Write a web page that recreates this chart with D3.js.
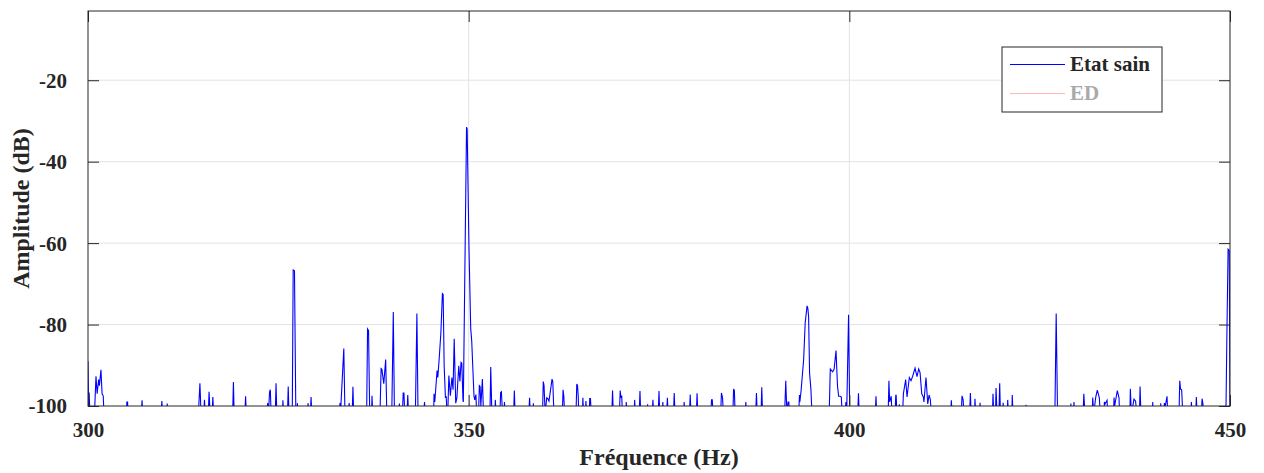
<!DOCTYPE html>
<html lang="fr">
<head>
  <meta charset="UTF-8">
  <title>Spectre - Etat sain</title>
  <script src="https://d3js.org/d3.v7.min.js"></script>
  <style>
    body { margin: 0; background: #fff; }
    svg { display: block; font-family: "Liberation Serif", "Times New Roman", serif; font-weight: bold; }
  </style>
</head>
<body>
<div id="chart"></div>
<script>
  // x / y ticks
  const xTicks = [300, 350, 400, 450];
  const yTicks = [-100, -80, -60, -40, -20];
  const legendLabels = ["Etat sain", "ED"];

  // spectrum: [frequency (Hz), amplitude (dB)]
  // values at -102 are below the axis floor and get clipped
  const etatSain = [
    [300.0,-89],[300.1,-102],[300.15,-96.7],[300.25,-102],[300.85,-102],[301.05,-92.7],[301.2,-97],
    [301.4,-93.5],[301.5,-95],[301.7,-91.1],[301.85,-97],[302.0,-97.5],[302.1,-102],
    [305.05,-102],[305.1,-99],[305.2,-99],[305.25,-102],
    [307.0,-102],[307.1,-98.6],[307.2,-102],
    [309.6,-102],[309.7,-98.8],[309.8,-102],
    [310.35,-102],[310.4,-99.4],[310.5,-102],
    [314.5,-102],[314.7,-94.4],[314.85,-102],
    [315.2,-102],[315.3,-98.5],[315.4,-102],
    [315.8,-102],[315.9,-96.5],[316.05,-102],
    [316.3,-102],[316.4,-97.8],[316.5,-102],
    [319.0,-102],[319.1,-94.1],[319.2,-102],
    [320.6,-102],[320.7,-97.6],[320.8,-102],
    [323.5,-102],[323.6,-99.3],[323.7,-102],[323.85,-96.5],[323.95,-96],[324.05,-102],
    [324.6,-102],[324.7,-94.4],[324.8,-102],
    [325.55,-102],[325.6,-98.6],[325.7,-102],
    [326.2,-102],[326.3,-95.2],[326.4,-102],
    [326.83,-102],[326.95,-66.6],[327.12,-66.8],[327.3,-102],
    [327.45,-102],[327.5,-99.3],[327.6,-102],
    [328.85,-102],[328.9,-99.3],[329.0,-102],
    [329.2,-102],[329.3,-97.8],[329.4,-102],
    [333.0,-102],[333.1,-99.3],[333.2,-100.5],[333.6,-85.9],[333.75,-102],
    [334.2,-102],[334.3,-99.3],[334.4,-102],
    [334.7,-102],[334.8,-95.3],[334.9,-102],
    [336.6,-102],[336.72,-81.1],[336.85,-81.5],[337.0,-102],
    [337.25,-102],[337.3,-97.5],[337.4,-102],
    [338.35,-102],[338.5,-90.8],[338.6,-91],[338.85,-94.5],[339.1,-88.6],[339.25,-102],
    [339.9,-102],[340.1,-76.9],[340.25,-102],
    [340.85,-102],[340.9,-99.4],[341.0,-102],
    [341.3,-102],[341.4,-96.8],[341.5,-96.8],[341.6,-102],
    [341.9,-102],[342.0,-97.3],[342.1,-102],
    [343.0,-102],[343.2,-77.3],[343.35,-102],
    [344.1,-102],[344.2,-99],[344.3,-102],
    [345.4,-102],[345.45,-97],[345.55,-99],[345.85,-91.3],[345.95,-93],[346.15,-87.8],[346.35,-82],
    [346.55,-72.4],[346.65,-72.6],[346.78,-90],[346.95,-98],[347.05,-97.6],[347.15,-102],
    [347.25,-102],[347.4,-92.5],[347.6,-97.5],[347.8,-93],[347.95,-96],[348.1,-83.5],[348.3,-99.3],
    [348.45,-98],[348.7,-90.1],[348.85,-94],[349.0,-89.3],[349.1,-89.5],[349.25,-98.5],
    [349.3,-99],[349.72,-31.5],[349.8,-32],[350.05,-62],[350.27,-81],[350.4,-84],[350.7,-97.6],
    [350.8,-98.5],[350.95,-97.2],[351.05,-102],
    [351.3,-102],[351.4,-95],[351.5,-95.2],[351.6,-100],[351.8,-93.4],[351.95,-102],
    [352.8,-102],[352.9,-90.4],[353.05,-102],
    [353.45,-102],[353.5,-98.5],[353.6,-102],
    [354.1,-102],[354.2,-96.7],[354.3,-96.5],[354.45,-102],
    [354.65,-102],[354.7,-99],[354.8,-102],
    [355.9,-102],[356.0,-96.2],[356.1,-102],
    [357.9,-102],[358.0,-98],[358.1,-102],
    [358.45,-102],[358.5,-99.3],[358.55,-102],
    [359.7,-102],[359.8,-94],[359.9,-95],[360.05,-102],[360.25,-98],[360.4,-98.2],[360.55,-98.8],
    [360.95,-93.4],[361.05,-94],[361.2,-102],
    [362.3,-102],[362.4,-96],[362.5,-97.6],[362.6,-102],
    [364.1,-102],[364.2,-94.6],[364.3,-95],[364.4,-98],[364.45,-102],
    [364.95,-102],[365.0,-98],[365.1,-102],
    [365.35,-102],[365.4,-98.8],[365.5,-102],
    [365.85,-102],[365.9,-98.2],[366.0,-98.2],[366.1,-102],
    [368.8,-102],[368.9,-96.2],[369.0,-102],
    [369.8,-102],[369.9,-96.2],[370.0,-98],[370.1,-97.4],[370.2,-102],
    [370.65,-102],[370.7,-99],[370.8,-102],
    [371.75,-102],[371.8,-98.5],[371.9,-102],
    [372.4,-102],[372.5,-96.3],[372.6,-102],
    [373.45,-102],[373.5,-99.6],[373.55,-102],
    [374.1,-102],[374.2,-98.5],[374.3,-102],
    [374.9,-102],[375.0,-96.3],[375.1,-102],
    [375.45,-102],[375.5,-99],[375.6,-102],
    [376.0,-102],[376.1,-98],[376.2,-102],
    [376.9,-102],[377.0,-96.8],[377.1,-102],
    [378.25,-102],[378.3,-99],[378.4,-102],
    [379.0,-102],[379.1,-97.2],[379.2,-102],
    [379.9,-102],[380.0,-96.9],[380.1,-102],
    [381.8,-102],[381.9,-98.5],[382.0,-98.5],[382.1,-102],
    [383.1,-102],[383.2,-96.8],[383.35,-98],[383.45,-102],
    [384.7,-102],[384.8,-95.8],[384.9,-96.2],[385.0,-102],
    [386.35,-102],[386.4,-99],[386.5,-102],
    [387.7,-102],[387.8,-96.8],[387.9,-102],
    [388.4,-102],[388.5,-95.4],[388.6,-102],
    [391.5,-102],[391.65,-93.8],[391.8,-102],[391.95,-99],[392.05,-99],[392.15,-102],
    [393.35,-102],[393.45,-97.3],[393.5,-99],[393.65,-96.5],[394.0,-88.6],[394.2,-79.6],
    [394.45,-75.4],[394.55,-76],[394.65,-78],[394.78,-92],[394.95,-95.8],[395.1,-102],
    [397.35,-102],[397.5,-90.9],[397.8,-91.6],[398.0,-91],[398.25,-86.4],[398.45,-95.2],
    [398.6,-97.6],[398.8,-97.6],[398.95,-97.8],[399.05,-102],
    [399.45,-102],[399.55,-99],[399.65,-102],[399.9,-77.6],[400.05,-102],
    [401.1,-102],[401.2,-96.9],[401.3,-102],
    [403.4,-102],[403.5,-97.6],[403.6,-102],
    [405.1,-102],[405.2,-93.8],[405.3,-99],[405.5,-97.6],[405.6,-102],
    [406.0,-102],[406.1,-97.4],[406.15,-97.4],[406.25,-102],
    [406.5,-102],[406.57,-99.6],[406.65,-102],
    [407.0,-102],[407.1,-97],[407.4,-93.5],[407.58,-97.8],[407.88,-93],[408.1,-93.8],[408.32,-92.7],
    [408.63,-90.7],[408.89,-92.8],[409.11,-90.9],[409.29,-91.8],[409.51,-97],[409.72,-97.8],
    [409.8,-99],[410.07,-93],[410.3,-99.5],[410.47,-97.3],[410.64,-98.4],[410.77,-102],
    [413.3,-102],[413.4,-98.6],[413.5,-102],
    [414.7,-102],[414.8,-97.5],[414.95,-98.5],[415.05,-102],
    [415.8,-102],[415.9,-96.8],[416.0,-102],
    [416.45,-102],[416.5,-98.2],[416.6,-102],
    [417.1,-102],[417.17,-99.2],[417.25,-102],
    [418.8,-102],[418.87,-97],[418.98,-102],[419.2,-102],[419.27,-95.6],[419.4,-102],
    [419.65,-102],[419.75,-94.4],[419.85,-102],
    [420.15,-102],[420.2,-99.2],[420.3,-102],
    [420.75,-102],[420.8,-98.5],[420.9,-102],
    [421.35,-102],[421.4,-97.3],[421.5,-102],
    [423.15,-102],[423.2,-99.7],[423.25,-102],
    [427.0,-102],[427.17,-77.3],[427.35,-102],
    [429.05,-102],[429.1,-99.4],[429.15,-102],
    [429.45,-102],[429.5,-99],[429.6,-102],
    [430.7,-102],[430.8,-97],[430.95,-102],
    [431.9,-102],[431.97,-97.9],[432.1,-102],[432.36,-97.9],[432.57,-96.1],[432.84,-98],[432.95,-102],
    [433.45,-102],[433.5,-99],[433.6,-99.5],[433.85,-98.6],[433.95,-102],
    [434.7,-102],[434.77,-97.9],[434.85,-100],[435.2,-96.2],[435.42,-98],[435.5,-102],
    [436.85,-102],[436.91,-95.8],[437.05,-102],[437.39,-98.3],[437.6,-98.8],[437.75,-102],
    [438.1,-102],[438.19,-95.2],[438.3,-102],
    [439.8,-102],[439.85,-99],[439.9,-102],
    [440.85,-102],[440.9,-99.3],[440.95,-102],[441.3,-102],[441.38,-99.3],[441.5,-100],
    [441.73,-97.6],[441.82,-102],
    [443.3,-102],[443.4,-93.8],[443.5,-95.8],[443.65,-96],[443.8,-102],
    [444.85,-102],[444.93,-99],[445.0,-102],
    [445.5,-102],[445.58,-97.8],[445.68,-102],
    [446.25,-102],[446.33,-98.2],[446.45,-99.5],[446.5,-102],
    [449.4,-102],[449.48,-99.5],[449.6,-81.3],[449.75,-61.5],[449.9,-61.8],[450.0,-102]
  ];

  const width = 1264, height = 473;
  const plot = { left: 88, right: 1230, top: 11, bottom: 406 };
  const axisColor = "#262626";
  const tickLen = 11;

  const x = d3.scaleLinear().domain([300, 450]).range([plot.left, plot.right]);
  const y = d3.scaleLinear().domain([-100, -3]).range([plot.bottom, plot.top]);

  const svg = d3.select("#chart").append("svg")
    .attr("width", width)
    .attr("height", height);

  svg.append("defs").append("clipPath").attr("id", "plot-clip")
    .append("rect")
    .attr("x", plot.left).attr("y", plot.top)
    .attr("width", plot.right - plot.left).attr("height", plot.bottom - plot.top);

  // grid
  svg.append("g").selectAll("line")
    .data(yTicks.filter(d => d > -100))
    .join("line")
    .attr("x1", plot.left).attr("x2", plot.right)
    .attr("y1", d => y(d)).attr("y2", d => y(d))
    .attr("stroke", "#e3e3e3").attr("stroke-width", 1);

  svg.append("g").selectAll("line")
    .data(xTicks.filter(d => d > 300 && d < 450))
    .join("line")
    .attr("y1", plot.top).attr("y2", plot.bottom)
    .attr("x1", d => x(d)).attr("x2", d => x(d))
    .attr("stroke", "#e3e3e3").attr("stroke-width", 1);

  // spectrum line
  const line = d3.line().x(d => x(d[0])).y(d => y(d[1]));
  svg.append("path")
    .datum(etatSain)
    .attr("clip-path", "url(#plot-clip)")
    .attr("fill", "none")
    .attr("stroke", "#0000ff")
    .attr("stroke-width", 1.1)
    .attr("d", line);

  // box
  svg.append("rect")
    .attr("x", plot.left).attr("y", plot.top)
    .attr("width", plot.right - plot.left).attr("height", plot.bottom - plot.top)
    .attr("fill", "none").attr("stroke", axisColor).attr("stroke-width", 1);

  // axes with inward ticks on every side (plain hyphen for negatives, like the original)
  const fmt = d => String(d);
  const axisLeft = svg.append("g").attr("transform", `translate(${plot.left},0)`)
    .call(d3.axisLeft(y).tickValues(yTicks).tickFormat(fmt).tickSize(-tickLen).tickPadding(tickLen + 10));
  const axisRight = svg.append("g").attr("transform", `translate(${plot.right},0)`)
    .call(d3.axisRight(y).tickValues(yTicks).tickSize(-tickLen).tickFormat(""));
  const axisBottom = svg.append("g").attr("transform", `translate(0,${plot.bottom})`)
    .call(d3.axisBottom(x).tickValues(xTicks).tickFormat(fmt).tickSize(-tickLen).tickPadding(tickLen + 5));
  const axisTop = svg.append("g").attr("transform", `translate(0,${plot.top})`)
    .call(d3.axisTop(x).tickValues(xTicks).tickSize(-tickLen).tickFormat(""));

  [axisLeft, axisRight, axisBottom, axisTop].forEach(g => {
    g.select(".domain").remove();
    g.selectAll(".tick line").attr("stroke", axisColor);
    g.selectAll(".tick text")
      .attr("fill", axisColor)
      .style("font-size", "21px")
      .style("font-family", "'Liberation Serif', 'Times New Roman', serif")
      .style("font-weight", "bold");
  });
  axisLeft.selectAll(".tick text").attr("dy", "0.33em");
  axisBottom.selectAll(".tick text").attr("dy", "0.71em");

  // axis labels
  svg.append("text")
    .attr("x", (plot.left + plot.right) / 2)
    .attr("y", 465)
    .attr("text-anchor", "middle")
    .attr("fill", axisColor)
    .style("font-size", "24px")
    .text("Fréquence (Hz)");

  svg.append("text")
    .attr("transform", `translate(29,${(plot.top + plot.bottom) / 2}) rotate(-90)`)
    .attr("text-anchor", "middle")
    .attr("fill", axisColor)
    .style("font-size", "24px")
    .text("Amplitude (dB)");

  // legend
  const legend = svg.append("g");
  legend.append("rect")
    .attr("x", 1002).attr("y", 47)
    .attr("width", 160).attr("height", 65)
    .attr("fill", "#fff").attr("stroke", axisColor).attr("stroke-width", 1);

  const legendColors = ["#0000ff", "#ffb8b8"];
  const legendText = [axisColor, "#aaaaaa"];
  const item = legend.selectAll("g.item")
    .data(legendLabels)
    .join("g")
    .attr("class", "item")
    .attr("transform", (d, i) => `translate(0,${64.5 + i * 29})`);

  item.append("line")
    .attr("x1", 1010).attr("x2", 1065)
    .attr("stroke", (d, i) => legendColors[i])
    .attr("stroke-width", 1);

  item.append("text")
    .attr("x", 1070)
    .attr("dy", "0.33em")
    .attr("fill", (d, i) => legendText[i])
    .style("font-size", "21px")
    .text(d => d);
</script>
</body>
</html>
